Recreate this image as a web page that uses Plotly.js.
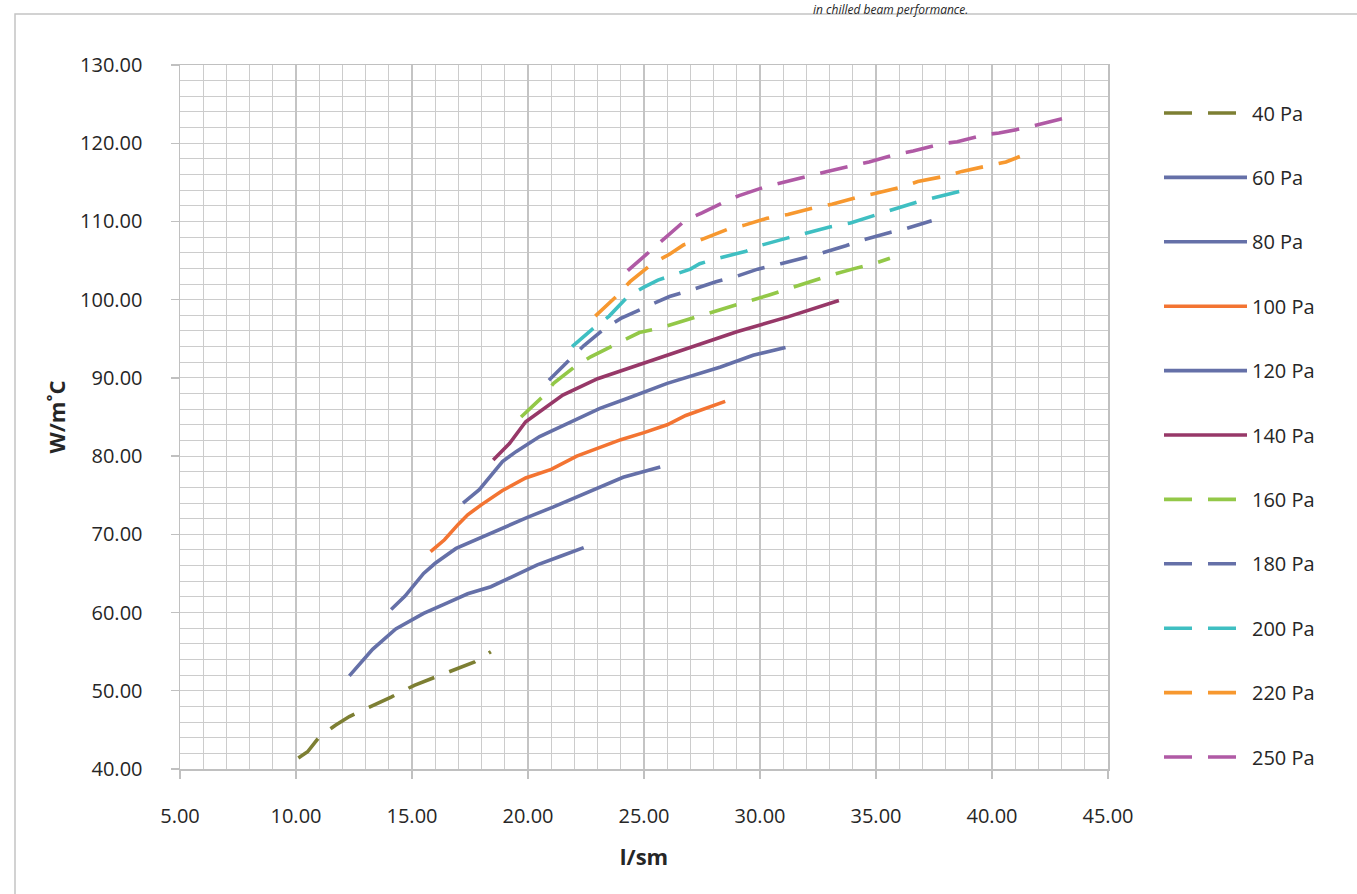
<!DOCTYPE html>
<html>
<head>
<meta charset="utf-8">
<script src="https://cdn.plot.ly/plotly-3.0.1.min.js"></script>
<style>
html,body{margin:0;padding:0;background:#fff;}
#chart{width:1357px;height:894px;}
</style>
</head>
<body>
<div id="chart"></div>
<script>
// ---- data ----
const seriesNames = ["40 Pa","60 Pa","80 Pa","100 Pa","120 Pa","140 Pa","160 Pa","180 Pa","200 Pa","220 Pa","250 Pa"];

const x40 = [10.1,10.5,11.0,11.7,12.3,12.9,13.5,14.1,15.1,15.9,17.0,17.7,18.4];
const y40 = [41.4,42.2,44.1,45.6,46.7,47.5,48.4,49.2,50.7,51.6,52.9,53.7,55.0];

const x60 = [12.3,13.3,14.3,15.5,16.5,17.4,18.4,19.4,20.4,21.4,22.4];
const y60 = [51.9,55.3,57.9,59.9,61.2,62.4,63.3,64.7,66.1,67.2,68.3];

const x80 = [14.1,14.7,15.5,16.0,16.9,17.9,19.1,20.0,21.1,22.1,23.1,24.1,25.7];
const y80 = [60.4,62.1,65.0,66.3,68.2,69.5,71.1,72.2,73.5,74.8,76.1,77.3,78.6];

const x100 = [15.8,16.4,17.0,17.4,18.0,18.9,19.9,21.0,22.1,23.1,24.0,25.0,26.0,26.8,27.6,28.5];
const y100 = [67.8,69.3,71.3,72.5,73.8,75.6,77.2,78.3,80.0,81.1,82.1,83.0,84.0,85.2,86.1,87.0];

const x120 = [17.2,17.9,18.9,19.5,20.5,21.7,23.1,24.3,26.0,28.3,29.7,31.1];
const y120 = [74.0,75.7,79.3,80.6,82.5,84.2,86.1,87.4,89.3,91.4,92.9,93.9];

const x140 = [18.5,19.2,19.9,20.8,21.5,23.0,24.7,26.8,29.0,31.2,33.4];
const y140 = [79.5,81.6,84.4,86.3,87.8,89.9,91.6,93.8,95.9,97.8,99.9];

const x160 = [19.7,20.6,21.1,22.0,22.7,23.7,24.8,25.6,26.7,27.5,28.6,30.4,32.2,32.9,34.1,34.9,35.6];
const y160 = [85.0,87.5,89.3,91.4,92.7,94.2,95.8,96.3,97.3,98.1,99.0,100.6,102.3,103.0,104.0,104.6,105.3];

const x180 = [20.9,21.8,22.4,23.3,24.0,25.4,26.1,27.0,28.1,28.9,29.9,30.9,31.8,32.5,33.7,34.4,35.6,36.3,37.4];
const y180 = [89.7,92.3,94.1,96.3,97.6,99.5,100.4,101.2,102.3,102.9,103.9,104.6,105.3,105.8,106.9,107.6,108.6,109.1,110.1];

const x200 = [21.9,22.8,23.5,24.3,25.0,25.6,26.3,27.0,27.4,28.2,29.4,30.1,31.2,32.0,33.0,33.9,34.9,35.7,36.8,37.6,38.7];
const y200 = [94.0,96.3,97.9,100.4,101.6,102.5,103.2,103.9,104.6,105.3,106.2,107.0,107.9,108.5,109.3,109.8,110.8,111.5,112.5,113.1,113.9];

const x220 = [22.9,23.8,24.4,25.4,26.1,26.7,27.4,28.6,29.3,30.3,31.2,32.4,33.1,34.2,35.0,36.1,36.8,38.0,38.7,39.9,40.6,41.2];
const y220 = [97.9,100.4,102.3,104.7,105.8,107.0,107.6,109.0,109.5,110.4,110.9,111.8,112.2,113.1,113.6,114.4,115.1,115.8,116.4,117.2,117.6,118.3];

const x250 = [24.3,25.2,25.8,26.8,27.5,28.6,29.1,30.2,31.0,32.2,32.9,34.1,34.7,35.9,36.6,37.8,38.5,39.7,40.3,41.5,42.2,43.4];
const y250 = [103.7,106.1,107.6,110.2,111.1,112.7,113.3,114.4,115.0,115.8,116.4,117.2,117.6,118.6,119.0,119.9,120.2,121.1,121.3,122.0,122.5,123.4];

const xTitle = "l/sm";
const yTitle = "W/m˚C";
const headerText = "in chilled beam performance.";

// ---- styles ----
const xs = [x40,x60,x80,x100,x120,x140,x160,x180,x200,x220,x250];
const ys = [y40,y60,y80,y100,y120,y140,y160,y180,y200,y220,y250];
const colors = ["#7d7f33","#6570a8","#6570a8","#f37432","#6570a8","#973868","#93c848","#6570a8","#3fbfc2","#f7982f","#b05aa5"];
const dashed = [true,false,false,false,false,false,true,true,true,true,true];
const DASH = "28px,16px";
const FONT = "Open Sans, Noto Sans, sans-serif";

const traces = seriesNames.map((n,i)=>({
  type:"scatter", mode:"lines", name:n, x:xs[i], y:ys[i],
  line:{color:colors[i], width:3.6, dash: dashed[i]?DASH:"solid"},
  showlegend:false, hoverinfo:"x+y+name"
}));

// plot area in px: x 180..1108, y 65..769
const L=180, R=1108, T=65, B=769, W=R-L, H=B-T;
const px2x = p => (p-L)/W;
const py2y = p => (B-p)/H;

const shapes = [];
const annotations = [];
// custom legend (built from the series arrays)
seriesNames.forEach((n,i)=>{
  const cy = 113 + i*64.4;
  shapes.push({type:"line", xref:"paper", yref:"paper",
    x0:px2x(1164), x1:px2x(dashed[i]?1236:1247), y0:py2y(cy), y1:py2y(cy),
    line:{color:colors[i], width:3.6, dash: dashed[i]?DASH:"solid"}});
  annotations.push({xref:"paper", yref:"paper", x:px2x(1250), y:py2y(cy),
    xanchor:"left", yanchor:"middle", showarrow:false, text:n,
    font:{family:FONT, size:20, color:"#262626"}});
});
// outer chart border
shapes.push({type:"rect", xref:"paper", yref:"paper",
  x0:px2x(15), x1:px2x(1400), y0:py2y(14), y1:py2y(940),
  line:{color:"#c4c4c4", width:1.5}, fillcolor:"rgba(0,0,0,0)", layer:"below"});
// header text at the top edge
annotations.push({xref:"paper", yref:"paper", x:px2x(890), y:py2y(0),
  xanchor:"center", yanchor:"top", showarrow:false, text:"<i>"+headerText+"</i>",
  borderpad:0, font:{family:FONT, size:12, color:"#262626"}});

const axisCommon = {
  showline:true, linecolor:"#c0c0c0", linewidth:1.5, mirror:true,
  showgrid:true,
  ticks:"outside", ticklen:8, tickcolor:"#c0c0c0", tickwidth:1.3,
  tickformat:".2f", zeroline:false, automargin:false,
  tickfont:{family:FONT, size:20, color:"#262626"}
};

const layout = {
  width:1357, height:894,
  margin:{l:L, r:1357-R, t:T, b:894-B, pad:0},
  paper_bgcolor:"#ffffff", plot_bgcolor:"#ffffff",
  showlegend:false,
  xaxis:Object.assign({}, axisCommon, {
    range:[5,45], tick0:5, dtick:5, ticklabelstandoff:20,
    gridcolor:"#c4c4c4", gridwidth:1.2,
    minor:{dtick:1, showgrid:true, gridcolor:"#cccccc", gridwidth:1},
    title:{text:"<b>"+xTitle+"</b>", standoff:22, font:{family:FONT, size:22, color:"#262626"}}
  }),
  yaxis:Object.assign({}, axisCommon, {
    range:[40,130], tick0:40, dtick:10, ticklabelstandoff:24,
    gridcolor:"#cccccc", gridwidth:1,
    minor:{dtick:2, showgrid:true, gridcolor:"#cccccc", gridwidth:1},
    title:{text:"<b>"+yTitle+"</b>", standoff:8, font:{family:FONT, size:22, color:"#262626"}}
  }),
  shapes:shapes, annotations:annotations
};

Plotly.newPlot("chart", traces, layout, {staticPlot:true, displayModeBar:false});
</script>
</body>
</html>
